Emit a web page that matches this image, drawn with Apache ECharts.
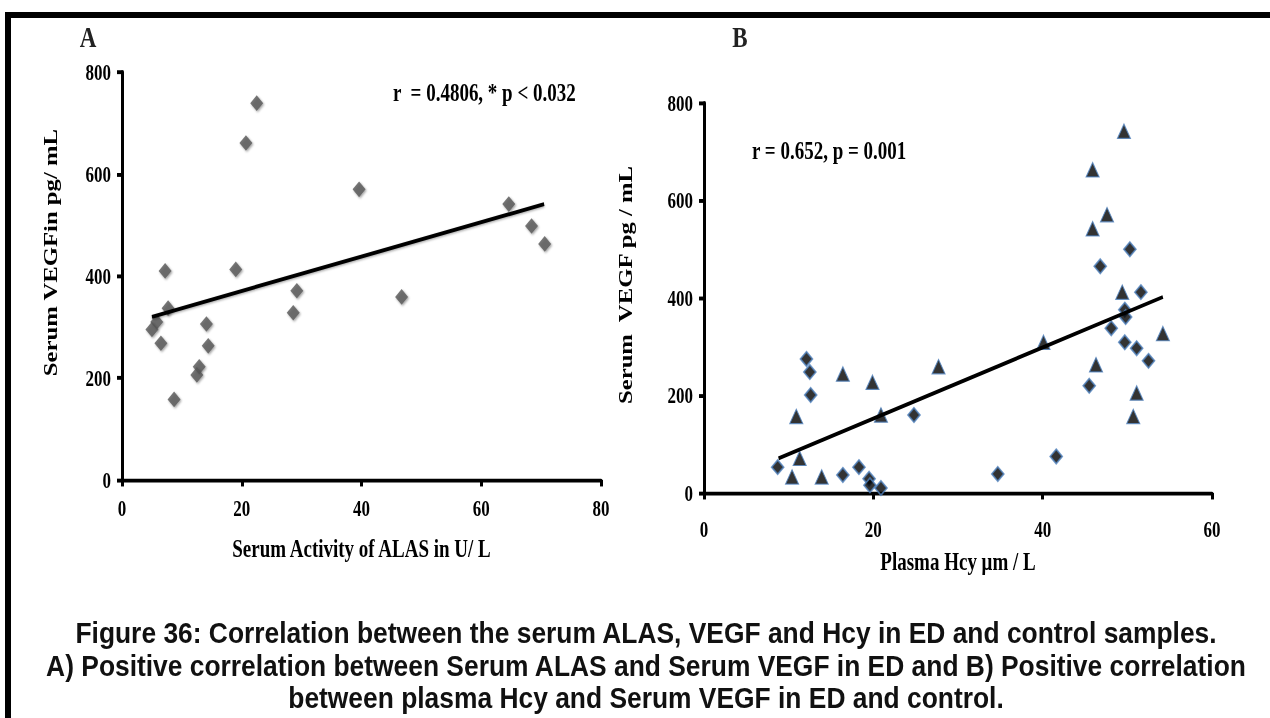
<!DOCTYPE html>
<html>
<head>
<meta charset="utf-8">
<script src="https://cdn.jsdelivr.net/npm/echarts@6/dist/echarts.min.js"></script>
<style>
html,body{margin:0;padding:0;background:#fff;overflow:hidden;}
#wrap{position:absolute;left:0;top:0;width:1270px;height:718px;overflow:hidden;}
#chart{position:absolute;left:0;top:0;width:1270px;height:552px;transform:scaleY(1.3007);transform-origin:0 0;}
</style>
</head>
<body>
<div id="wrap"><div id="chart"></div></div>
<script>
// ---- Panel A: Serum ALAS activity vs serum VEGF ----
const alasActivity = [22.5, 20.7, 39.6, 64.6, 68.4, 70.6, 7.2, 19.0, 29.2, 28.6, 46.7, 7.7, 5.8, 5.0, 6.5, 14.1, 14.4, 12.9, 12.5, 8.7];
const vegfA        = [739, 661, 570, 541, 498, 463, 410, 413, 371, 328, 359, 337, 310, 295, 268, 306, 263, 222, 206, 158];
const trendAx = [5.0, 70.5];
const trendAy = [320, 541];

// ---- Panel B: Plasma Hcy vs serum VEGF ----
const hcyTri  = [49.6, 45.9, 47.6, 45.9, 49.4, 54.2, 40.1, 46.3, 27.7, 16.4, 19.9, 51.1, 10.9, 20.9, 50.7, 11.3, 10.4, 13.9];
const vegfTri = [742, 663, 571, 542, 412, 327, 309, 263, 259, 244, 227, 205, 157, 160, 157, 71, 33, 33];
const hcyDia  = [50.3, 46.8, 51.6, 49.7, 49.8, 48.1, 49.7, 51.1, 52.5, 45.5, 12.1, 12.5, 12.6, 24.8, 41.6, 34.7, 8.7, 16.4, 18.3, 19.5, 19.6, 20.9];
const vegfDia = [500, 465, 412, 376, 361, 338, 309, 297, 271, 220, 275, 248, 201, 160, 75, 39, 53, 37, 53, 29, 16, 10];
const trendBx = [8.8, 54.2];
const trendBy = [71, 402];

// ---- Tick settings and texts ----
const yTicks = {min: 0, max: 800, interval: 200};
const xTicksA = {min: 0, max: 80, interval: 20};
const xTicksB = {min: 0, max: 60, interval: 20};
const captionLines = [
  'Figure 36: Correlation between the serum ALAS, VEGF and Hcy in ED and control samples.',
  'A) Positive correlation between Serum ALAS and Serum VEGF in ED and B) Positive correlation',
  'between plasma Hcy and Serum VEGF in ED and control.'
];

const zip = (xs, ys) => xs.map((x, i) => [x, ys[i]]);
const SERIF = '"Liberation Serif", "Times New Roman", serif';
const SANS = '"Liberation Sans", Arial, sans-serif';

function axisCommon(extra) {
  return Object.assign({
    type: 'value',
    axisLine: {show: true, onZero: false, lineStyle: {color: '#000', width: 3}},
    axisTick: {show: true, inside: false, length: 5, lineStyle: {color: '#000', width: 3}},
    axisLabel: {fontFamily: SERIF, fontWeight: 'bold', fontSize: 17, color: '#000'},
    splitLine: {show: false},
    nameLocation: 'middle',
    nameTextStyle: {fontFamily: SERIF, fontWeight: 'bold', fontSize: 19, color: '#000'}
  }, extra);
}

function captionText(i, y) {
  return {type: 'text', x: 646, y: y, scaleY: 0.85,
    style: {text: captionLines[i], font: 'bold 26.4px ' + SANS, fill: '#111', textAlign: 'center', textVerticalAlign: 'middle'}};
}

const chart = echarts.init(document.getElementById('chart'), null, {renderer: 'svg'});
chart.setOption({
  animation: false,
  backgroundColor: '#fff',
  grid: [
    {left: 122, top: 55.4, width: 479, height: 313.6},
    {left: 704, top: 79.2, width: 508, height: 299.8}
  ],
  xAxis: [
    axisCommon(Object.assign({gridIndex: 0, name: 'Serum Activity of ALAS in U/ L', nameGap: 43}, xTicksA, {axisLabel: {margin: 13, fontFamily: SERIF, fontWeight: 'bold', fontSize: 17, color: '#000'}})),
    axisCommon(Object.assign({gridIndex: 1, name: 'Plasma Hcy \u03bcm / L', nameGap: 43}, xTicksB, {axisLabel: {margin: 19, fontFamily: SERIF, fontWeight: 'bold', fontSize: 17, color: '#000'}}))
  ],
  yAxis: [
    axisCommon(Object.assign({gridIndex: 0, name: 'Serum VEGFin pg/ mL', nameGap: 62,
      nameTextStyle: {fontFamily: SERIF, fontWeight: 'bold', fontSize: 19, color: '#000', padding: [0, 0, 0, 36]}}, yTicks,
      {axisLabel: {margin: 11, fontFamily: SERIF, fontWeight: 'bold', fontSize: 17, color: '#000'}})),
    axisCommon(Object.assign({gridIndex: 1, name: 'Serum  VEGF pg / mL', nameGap: 69,
      nameTextStyle: {fontFamily: SERIF, fontWeight: 'bold', fontSize: 19, color: '#000', padding: [0, 0, 0, 20]}}, yTicks,
      {axisLabel: {margin: 11, fontFamily: SERIF, fontWeight: 'bold', fontSize: 17, color: '#000'}}))
  ],
  series: [
    {
      type: 'scatter', xAxisIndex: 0, yAxisIndex: 0,
      data: zip(alasActivity, vegfA),
      symbol: 'diamond', symbolSize: [13, 12],
      itemStyle: {color: '#555', shadowBlur: 2, shadowColor: 'rgba(0,0,0,0.45)', shadowOffsetX: 1, shadowOffsetY: 1}
    },
    {
      type: 'line', xAxisIndex: 0, yAxisIndex: 0,
      data: zip(trendAx, trendAy), symbol: 'none',
      lineStyle: {color: '#000', width: 3, shadowBlur: 2, shadowColor: 'rgba(0,0,0,0.35)', shadowOffsetY: 1}
    },
    {
      type: 'scatter', xAxisIndex: 1, yAxisIndex: 1,
      data: zip(hcyDia, vegfDia),
      symbol: 'diamond', symbolSize: [12, 11],
      itemStyle: {color: '#000', borderColor: '#4f81bd', borderWidth: 1.5}
    },
    {
      type: 'scatter', xAxisIndex: 1, yAxisIndex: 1,
      data: zip(hcyTri, vegfTri),
      symbol: 'triangle', symbolSize: [13, 11],
      itemStyle: {color: '#000', borderColor: '#4f81bd', borderWidth: 1}
    },
    {
      type: 'line', xAxisIndex: 1, yAxisIndex: 1,
      data: zip(trendBx, trendBy), symbol: 'none',
      lineStyle: {color: '#000', width: 3}
    }
  ],
  graphic: [
    {type: 'rect', shape: {x: 5, y: 9.2, width: 1265, height: 4.6}, style: {fill: '#000'}, silent: true},
    {type: 'rect', shape: {x: 5, y: 9.2, width: 6, height: 560}, style: {fill: '#000'}, silent: true},
    {type: 'text', x: 88, y: 28.5, style: {text: 'A', font: 'bold 23px ' + SERIF, fill: '#222', textAlign: 'center', textVerticalAlign: 'middle'}},
    {type: 'text', x: 740, y: 28.0, style: {text: 'B', font: 'bold 23px ' + SERIF, fill: '#222', textAlign: 'center', textVerticalAlign: 'middle'}},
    {type: 'text', x: 393, y: 71.5, style: {text: 'r  = 0.4806, * p < 0.032', font: 'bold 19px ' + SERIF, fill: '#000', textAlign: 'left', textVerticalAlign: 'middle'}},
    {type: 'text', x: 752, y: 115.5, style: {text: 'r = 0.652, p = 0.001', font: 'bold 19px ' + SERIF, fill: '#000', textAlign: 'left', textVerticalAlign: 'middle'}},
    captionText(0, 486.7),
    captionText(1, 512.0),
    captionText(2, 536.6)
  ]
});
</script>
</body>
</html>
